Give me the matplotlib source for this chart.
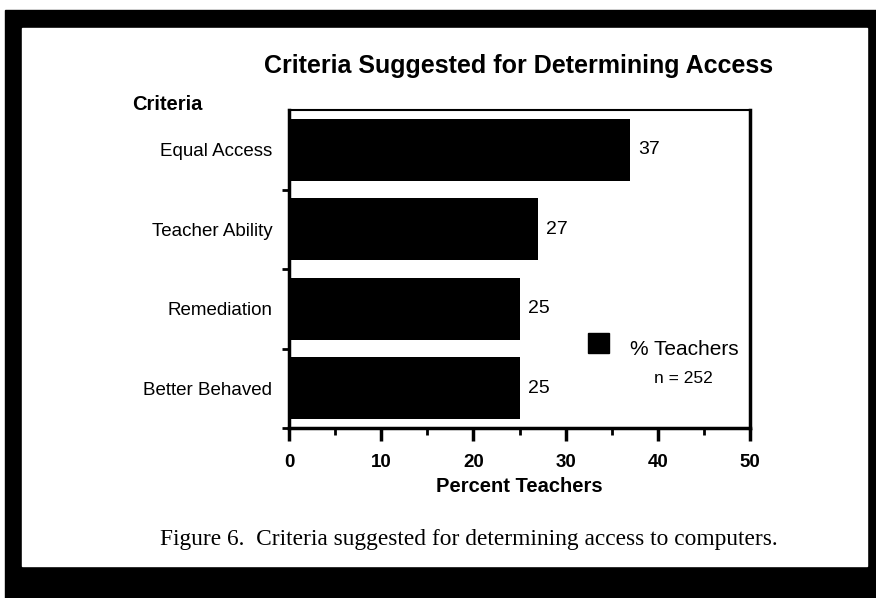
import matplotlib
matplotlib.use('Agg')
import matplotlib.pyplot as plt
from matplotlib.patches import Rectangle
from matplotlib.ticker import MultipleLocator

categories = ['Equal Access', 'Teacher Ability', 'Remediation', 'Better Behaved']
percent = [37, 27, 25, 25]
xticks = [0, 10, 20, 30, 40, 50]

W, H = 876, 598
plt.rcParams['font.family'] = ['Liberation Sans', 'DejaVu Sans']

fig = plt.figure(figsize=(W / 100, H / 100), dpi=100)
fig.patch.set_facecolor('white')


def px(x0, y0, x1, y1):
    # pixel box (top-left origin) -> figure fraction rect
    return (x0 / W, 1 - y1 / H), (x1 - x0) / W, (y1 - y0) / H


# black page frame
xy, w, h = px(5, 10, 876, 598)
fig.patches.append(Rectangle(xy, w, h, transform=fig.transFigure, color='black', zorder=-10))
xy, w, h = px(22, 28, 867, 566)
fig.patches.append(Rectangle(xy, w, h, transform=fig.transFigure, color='white', zorder=-9))

ax = fig.add_axes([289 / W, 1 - 428 / H, (750 - 289) / W, (428 - 110) / H], zorder=2)
ax.set_facecolor('none')

ypos = list(range(len(categories)))
ax.barh(ypos, percent, height=0.78, color='black', zorder=2)
ax.set_ylim(len(categories) - 0.5, -0.5)
ax.set_xlim(0, 50)

for y, v in zip(ypos, percent):
    ax.text(v + 0.9, y, str(v), va='center', ha='left', fontsize=14, color='black')

ax.set_yticks(ypos)
ax.set_yticklabels(categories, fontsize=13.5)
ax.tick_params(axis='y', which='major', length=0, pad=12)
ax.set_yticks([0.5, 1.5, 2.5, 3.5], minor=True)
ax.tick_params(axis='y', which='minor', length=5, width=2, direction='out')

ax.set_xticks(xticks)
ax.set_xticklabels([str(t) for t in xticks], fontsize=13.5, fontweight='bold')
ax.xaxis.set_minor_locator(MultipleLocator(5))
ax.tick_params(axis='x', which='major', length=9, width=2.5, direction='out', pad=10)
ax.tick_params(axis='x', which='minor', length=5, width=2, direction='out')
ax.set_xlabel('Percent Teachers', fontsize=14.5, fontweight='bold', labelpad=4)

for side in ['left', 'bottom', 'right']:
    ax.spines[side].set_linewidth(2.5)
ax.spines['top'].set_linewidth(1.5)

fig.text(519 / W, 1 - 73 / H, 'Criteria Suggested for Determining Access',
         ha='center', va='baseline', fontsize=18, fontweight='bold')
fig.text(132 / W, 1 - 110 / H, 'Criteria', ha='left', va='baseline',
         fontsize=14.5, fontweight='bold')

# legend
xy, w, h = px(588, 333, 609, 353)
fig.patches.append(Rectangle(xy, w, h, transform=fig.transFigure, color='black', zorder=3))
fig.text(630 / W, 1 - 355 / H, '% Teachers', ha='left', va='baseline', fontsize=15)
fig.text(683 / W, 1 - 383 / H, 'n = 252', ha='center', va='baseline', fontsize=12.5)

fig.text(469 / W, 1 - 545 / H,
         'Figure 6.  Criteria suggested for determining access to computers.',
         ha='center', va='baseline', fontsize=16.8, family=['Liberation Serif', 'DejaVu Serif'])

fig.savefig('out.png', dpi=100)
